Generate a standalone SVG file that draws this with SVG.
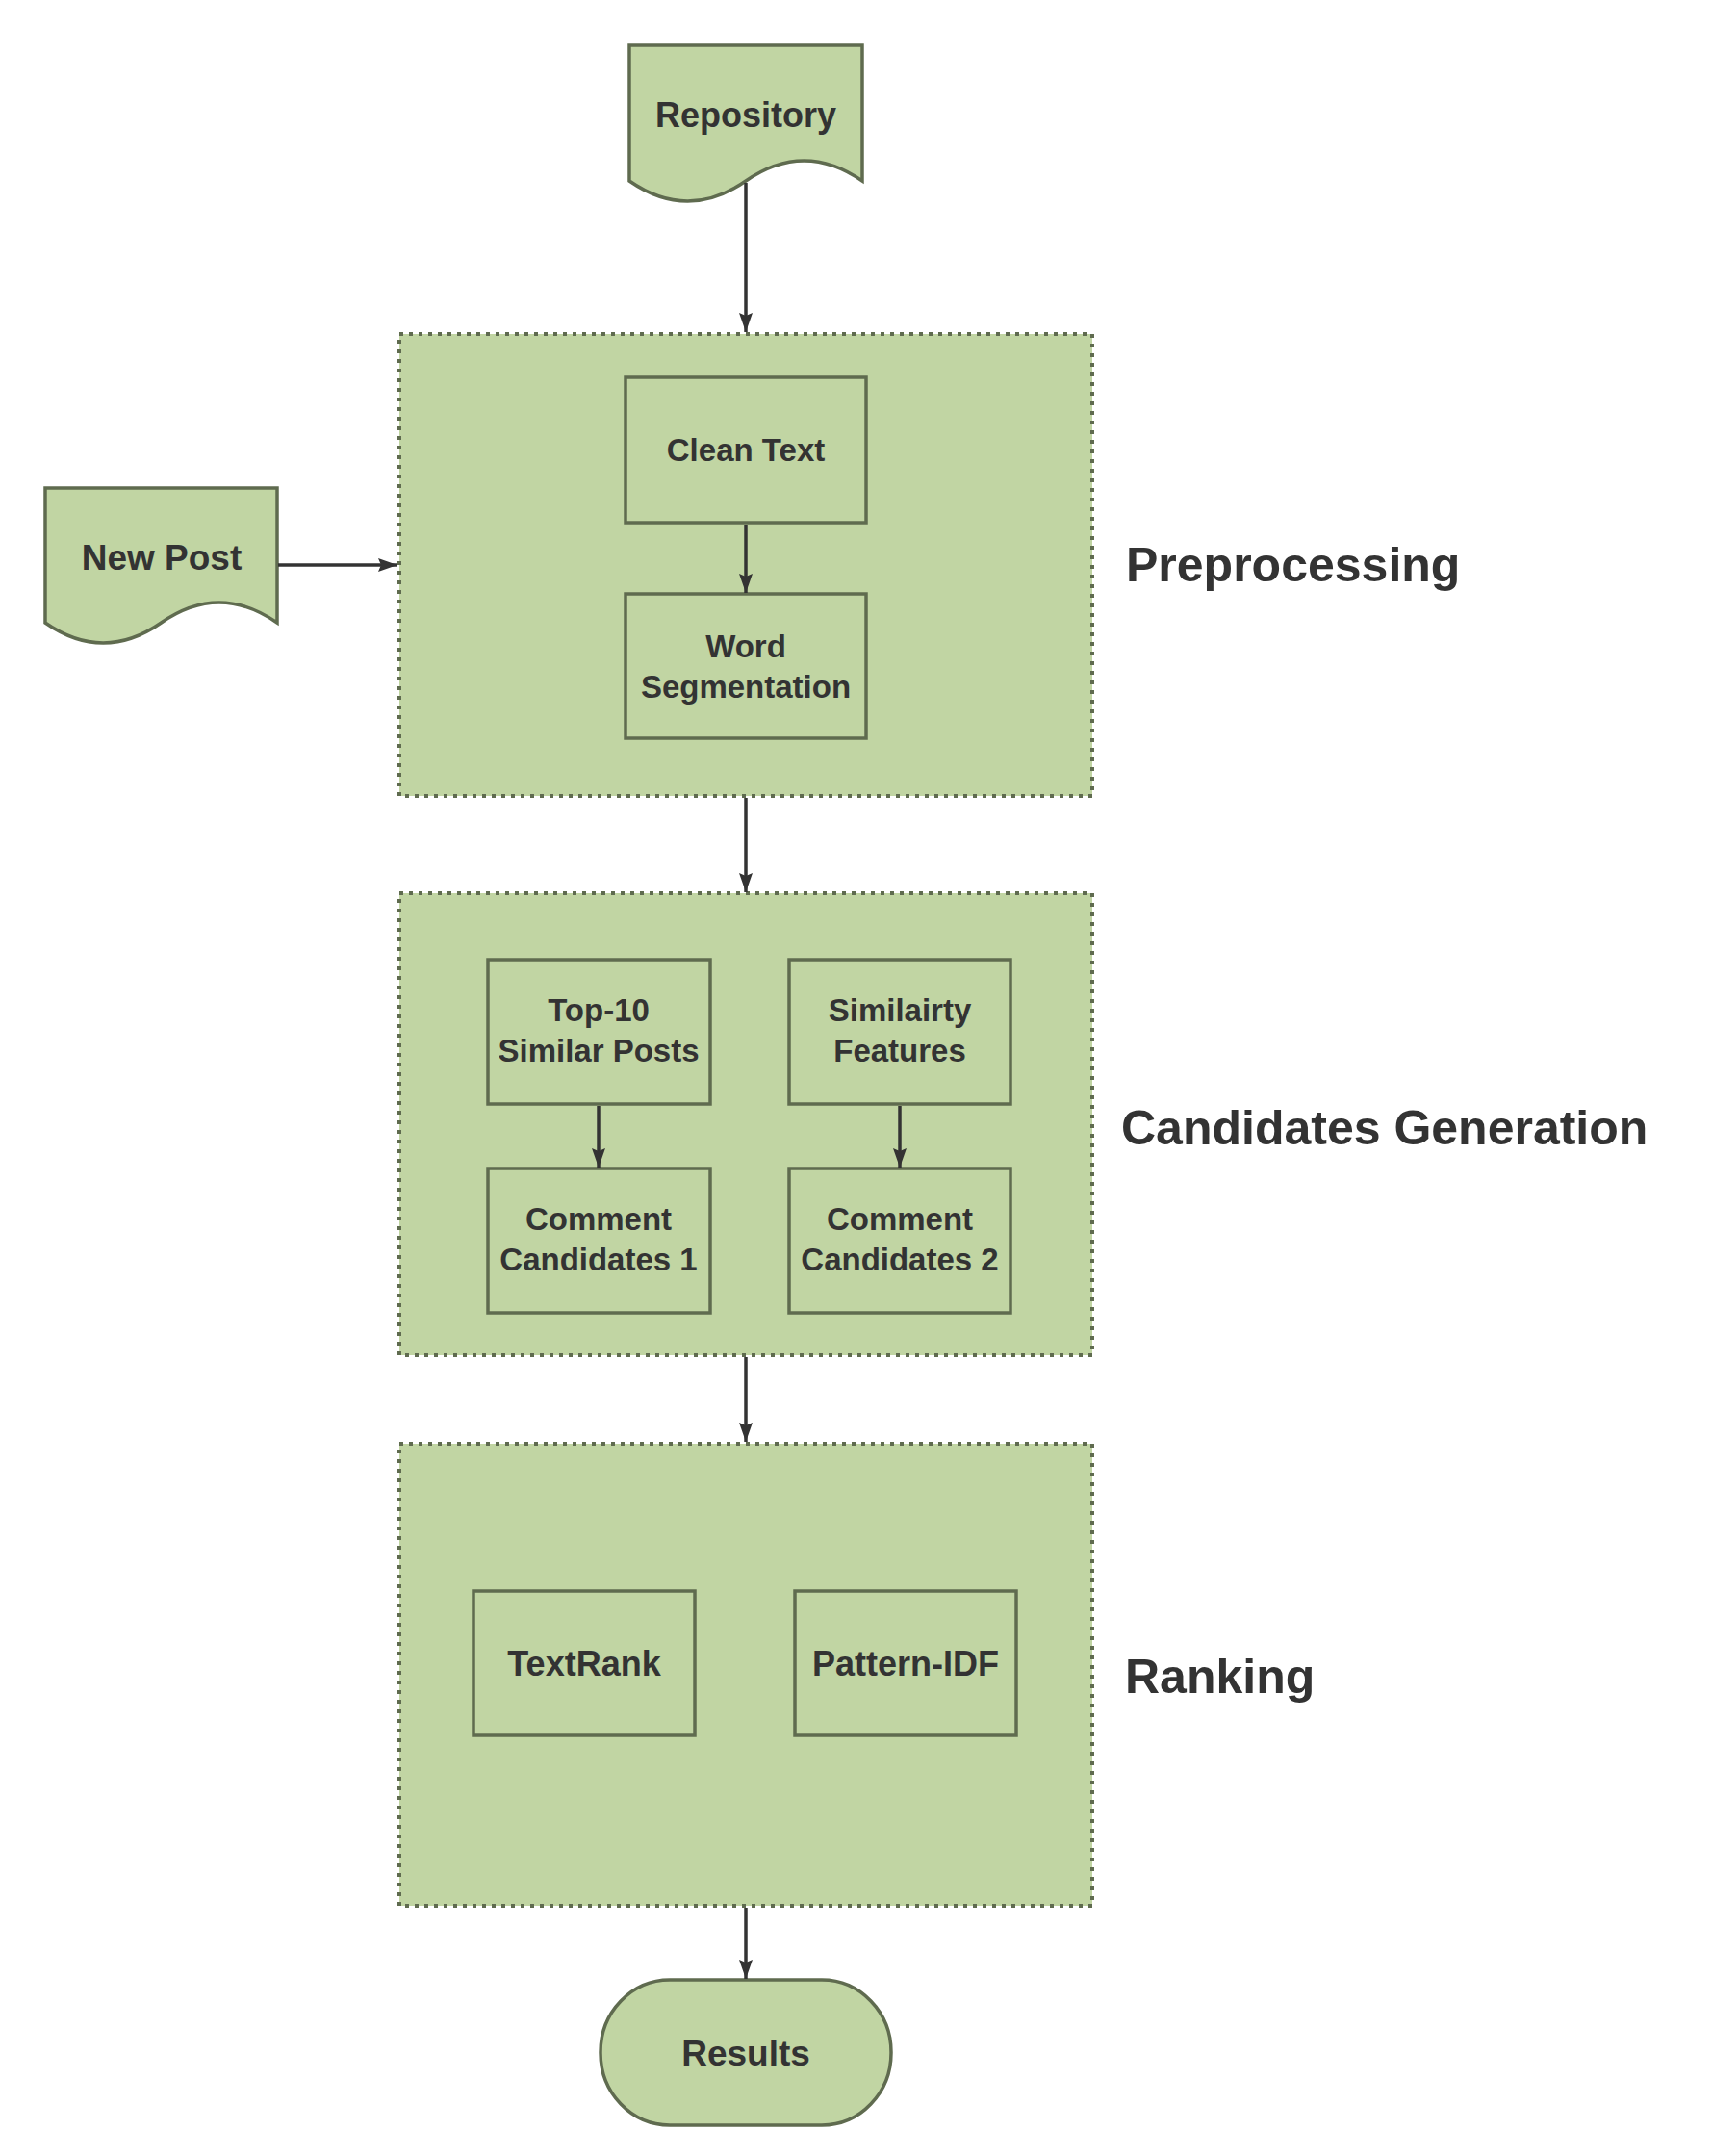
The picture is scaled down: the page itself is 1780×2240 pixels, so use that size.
<svg xmlns="http://www.w3.org/2000/svg" width="1780" height="2240" viewBox="0 0 1780 2240">
<style>
.box{fill:#c1d5a3;stroke:#5f6b4f;stroke-width:3.5;}
.grp{fill:#c1d5a3;stroke:#5f6b4f;stroke-width:4;stroke-dasharray:4 6;}
.t{font-family:"Liberation Sans",Arial,sans-serif;font-weight:bold;fill:#333333;text-anchor:middle;}
.in{font-size:33px;}
.in2{font-size:36px;}
.out{font-size:36px;}
.lbl{font-family:"Liberation Sans",Arial,sans-serif;font-weight:bold;fill:#333333;font-size:50px;}
.edge{fill:none;stroke:#333333;stroke-width:3.5;}
</style>
<defs>
<marker id="arr" markerUnits="userSpaceOnUse" markerWidth="22" markerHeight="15" refX="20" refY="7" orient="auto">
<path d="M0,0 L20,7 L0,14 L3,7 Z" fill="#333333"/>
</marker>
</defs>
<rect width="1780" height="2240" fill="#ffffff"/>

<g id="preprocessing">
<rect class="grp" x="415" y="347" width="720" height="480"/>
<text class="lbl" x="1170" y="604">Preprocessing</text>
</g>
<g id="candidates-generation">
<rect class="grp" x="415" y="928" width="720" height="480"/>
<text class="lbl" x="1165" y="1189">Candidates Generation</text>
</g>
<g id="ranking">
<rect class="grp" x="415" y="1500" width="720" height="480"/>
<text class="lbl" x="1169" y="1759">Ranking</text>
</g>

<g id="repository">
<path class="box" d="M654,47 H896 V188 Q835.5,146 775,188 Q714.5,230 654,188 Z"/>
<text class="t out" x="775" y="132">Repository</text>
</g>
<g id="new-post">
<path class="box" d="M47,507 H288 V647 Q227.75,605 167.5,647 Q107.25,689 47,647 Z"/>
<text class="t" style="font-size:37px" x="168" y="592">New Post</text>
</g>
<g id="clean-text">
<rect class="box" x="650" y="392" width="250" height="151"/>
<text class="t in" x="775" y="479">Clean Text</text>
</g>
<g id="word-segmentation">
<rect class="box" x="650" y="617" width="250" height="150"/>
<text class="t in" x="775" y="683">Word</text>
<text class="t in" x="775" y="725">Segmentation</text>
</g>
<g id="top10">
<rect class="box" x="507" y="997" width="231" height="150"/>
<text class="t in" x="622" y="1061">Top-10</text>
<text class="t in" x="622" y="1103">Similar Posts</text>
</g>
<g id="similarity-features">
<rect class="box" x="820" y="997" width="230" height="150"/>
<text class="t in" x="935" y="1061">Similairty</text>
<text class="t in" x="935" y="1103">Features</text>
</g>
<g id="comment-candidates-1">
<rect class="box" x="507" y="1214" width="231" height="150"/>
<text class="t in" x="622" y="1278">Comment</text>
<text class="t in" x="622" y="1320">Candidates 1</text>
</g>
<g id="comment-candidates-2">
<rect class="box" x="820" y="1214" width="230" height="150"/>
<text class="t in" x="935" y="1278">Comment</text>
<text class="t in" x="935" y="1320">Candidates 2</text>
</g>
<g id="textrank">
<rect class="box" x="492" y="1653" width="230" height="150"/>
<text class="t in2" x="607" y="1741">TextRank</text>
</g>
<g id="pattern-idf">
<rect class="box" x="826" y="1653" width="230" height="150"/>
<text class="t in2" x="941" y="1741">Pattern-IDF</text>
</g>
<g id="results">
<rect class="box" x="624" y="2057" width="302" height="151" rx="72" ry="75"/>
<text class="t" style="font-size:37px" x="775" y="2146">Results</text>
</g>

<g id="connectors">
<line class="edge" x1="775" y1="190" x2="775" y2="345" marker-end="url(#arr)"/>
<line class="edge" x1="289" y1="587" x2="413" y2="587" marker-end="url(#arr)"/>
<line class="edge" x1="775" y1="545" x2="775" y2="616" marker-end="url(#arr)"/>
<line class="edge" x1="775" y1="829" x2="775" y2="927" marker-end="url(#arr)"/>
<line class="edge" x1="622" y1="1149" x2="622" y2="1213" marker-end="url(#arr)"/>
<line class="edge" x1="935" y1="1149" x2="935" y2="1213" marker-end="url(#arr)"/>
<line class="edge" x1="775" y1="1410" x2="775" y2="1498" marker-end="url(#arr)"/>
<line class="edge" x1="775" y1="1982" x2="775" y2="2056" marker-end="url(#arr)"/>
</g>
</svg>
